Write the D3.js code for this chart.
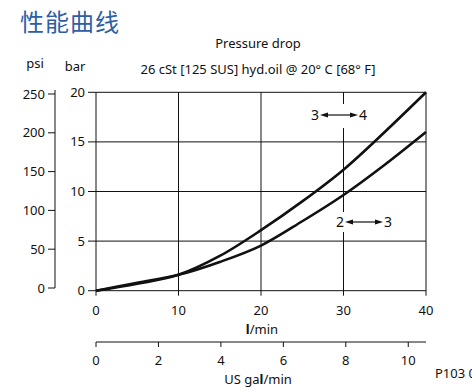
<!DOCTYPE html>
<html><head><meta charset="utf-8">
<script src="https://cdn.jsdelivr.net/npm/d3@7"></script>
<style>body{margin:0;background:#fff;overflow:hidden}svg{display:block}text{font-family:"Liberation Sans Narrow","Noto Sans",sans-serif;fill:#111}</style>
</head><body><svg id="c" width="472" height="391"></svg>
<script>
const flow = [0, 5, 10, 15, 20, 25, 30, 35, 40];
const curve34 = [0, 0.7, 1.6, 3.5, 6.1, 9.0, 12.2, 16.0, 20.0];
const curve23 = [0, 0.8, 1.6, 2.9, 4.55, 7.0, 9.65, 12.7, 16.0];
const barTicks = [0, 5, 10, 15, 20];
const psiTicks = [0, 50, 100, 150, 200, 250];
const lminTicks = [0, 10, 20, 30, 40];
const galTicks = [0, 2, 4, 6, 8, 10];

const svg = d3.select("#c");
const x = d3.scaleLinear().domain([0, 40]).range([96, 426]);
const y = d3.scaleLinear().domain([0, 20]).range([290.7, 92.3]);
const yPsi = d3.scaleLinear().domain([0, 250]).range([288, 94]);
const xGal = d3.scaleLinear().domain([0, 40 / 3.785]).range([96, 426]);
const ink = "#111";

svg.append("text").attr("x", 20).attr("y", 31).attr("font-size", 24)
  .style("font-family", '"Noto Sans CJK SC",sans-serif').style("fill", "#2d5ea6")
  .attr("letter-spacing", 1).text("性能曲线");

svg.append("text").attr("x", 258).attr("y", 48).attr("font-size", 13).attr("text-anchor", "middle").text("Pressure drop");
svg.append("text").attr("x", 258).attr("y", 74).attr("font-size", 13).attr("text-anchor", "middle").text("26 cSt [125 SUS] hyd.oil @ 20° C [68° F]");
svg.append("text").attr("x", 35).attr("y", 68).attr("font-size", 13).attr("text-anchor", "middle").text("psi");
svg.append("text").attr("x", 75).attr("y", 71).attr("font-size", 13).attr("text-anchor", "middle").text("bar");

// grid
const g = svg.append("g");
g.selectAll(".gx").data(lminTicks).join("line")
  .attr("x1", d => x(d)).attr("x2", d => x(d)).attr("y1", y(20)).attr("y2", y(0) + 5)
  .attr("stroke", ink).attr("stroke-width", 1);
g.selectAll(".gy").data(barTicks).join("line")
  .attr("x1", x(0) - 8).attr("x2", x(40)).attr("y1", d => y(d)).attr("y2", d => y(d))
  .attr("stroke", ink).attr("stroke-width", 1);
g.selectAll(".by").data(barTicks).join("text")
  .attr("x", 85).attr("y", d => y(d) + 4.5).attr("font-size", 13).attr("text-anchor", "end").text(d => d);
g.selectAll(".bx").data(lminTicks).join("text")
  .attr("x", d => x(d)).attr("y", 315).attr("font-size", 13).attr("text-anchor", "middle").text(d => d);
const lt = svg.append("text").attr("x", 262).attr("y", 334).attr("font-size", 13).attr("text-anchor", "middle");
lt.append("tspan").attr("font-weight", "bold").text("l");
lt.append("tspan").text("/min");

// psi axis
svg.append("line").attr("x1", 55).attr("x2", 55).attr("y1", 90).attr("y2", yPsi(0)).attr("stroke", ink);
svg.selectAll(".pt").data(psiTicks).join("line")
  .attr("x1", 48).attr("x2", 55).attr("y1", d => yPsi(d)).attr("y2", d => yPsi(d)).attr("stroke", ink);
svg.selectAll(".pl").data(psiTicks).join("text")
  .attr("x", 45).attr("y", d => yPsi(d) + 4.5).attr("font-size", 13).attr("text-anchor", "end").text(d => d);

// gal axis
svg.append("line").attr("x1", 96).attr("x2", 426).attr("y1", 342).attr("y2", 342).attr("stroke", ink);
svg.selectAll(".gt").data(galTicks).join("line")
  .attr("x1", d => xGal(d)).attr("x2", d => xGal(d)).attr("y1", 342).attr("y2", 347).attr("stroke", ink);
svg.selectAll(".gl").data(galTicks).join("text")
  .attr("x", d => xGal(d)).attr("y", 365).attr("font-size", 13).attr("text-anchor", "middle").text(d => d);
const gt = svg.append("text").attr("x", 258).attr("y", 384).attr("font-size", 13).attr("text-anchor", "middle");
gt.append("tspan").text("US ga");
gt.append("tspan").attr("font-weight", "bold").text("l");
gt.append("tspan").text("/min");
svg.append("text").attr("x", 435).attr("y", 378).attr("font-size", 13).text("P103 062");

// curves
const line = d3.line().x((d, i) => x(flow[i])).y(d => y(d)).curve(d3.curveMonotoneX);
[curve34, curve23].forEach(c => {
  svg.append("path").attr("d", line(c)).attr("fill", "none").attr("stroke", ink).attr("stroke-width", 2.6);
});

// labels with arrows
function label(a, b, cx, cy, rx, ry, rw, rh) {
  svg.append("rect").attr("x", rx).attr("y", ry).attr("width", rw).attr("height", rh).attr("fill", "#fff");
  svg.append("text").attr("x", cx - 24).attr("y", cy + 5).attr("font-size", 14).attr("text-anchor", "middle").text(a);
  svg.append("text").attr("x", cx + 24).attr("y", cy + 5).attr("font-size", 14).attr("text-anchor", "middle").text(b);
  svg.append("line").attr("x1", cx - 15).attr("x2", cx + 15).attr("y1", cy).attr("y2", cy).attr("stroke", ink).attr("stroke-width", 1.2);
  svg.append("path").attr("d", `M${cx-19},${cy}L${cx-11},${cy-2.5}L${cx-11},${cy+2.5}Z`).attr("fill", ink);
  svg.append("path").attr("d", `M${cx+19},${cy}L${cx+11},${cy-2.5}L${cx+11},${cy+2.5}Z`).attr("fill", ink);
}
label("3", "4", 339, 115, 310, 104, 58, 24);
label("2", "3", 364, 222, 335, 212, 60, 20);
</script></body></html>
